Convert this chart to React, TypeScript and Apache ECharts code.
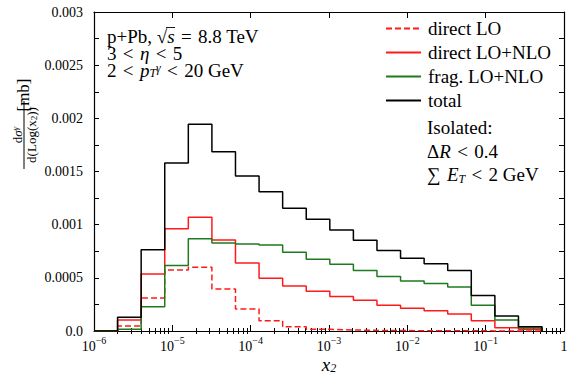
import React, { useEffect, useRef } from "react";
import * as echarts from "echarts";

// bin edges of the x2 histogram (doubling bins)
const binEdges = [
  1e-6, 2e-6, 4e-6, 8e-6, 1.6e-5, 3.2e-5, 6.4e-5, 1.28e-4, 2.56e-4, 5.12e-4,
  1.024e-3, 2.048e-3, 4.096e-3, 8.192e-3, 1.6384e-2, 3.2768e-2, 6.5536e-2,
  0.131072, 0.262144, 0.524288,
];

const directLO = [
  0, 0.000047, 0.00031, 0.000574, 0.0006, 0.000395, 0.000207, 0.000097,
  0.00004, 0.000016, 0.00001, 0.000006, 0.000004, 0.000003, 0.000002,
  0.000002, 0.000001, 0.000001, 0,
];
const directLONLO = [
  0, 0.000103, 0.000537, 0.000962, 0.00107, 0.000856, 0.00064, 0.000497,
  0.000423, 0.000375, 0.000325, 0.000289, 0.000242, 0.000214, 0.000191,
  0.00016, 0.000097, 0.000031, 0.000016,
];
const fragLONLO = [
  0, 0.000016, 0.000227, 0.000616, 0.000868, 0.000828, 0.000818, 0.000808,
  0.00074, 0.000675, 0.000627, 0.000568, 0.000512, 0.00047, 0.000447,
  0.000414, 0.000242, 0.000103, 0.000028,
];
const total = [
  0, 0.00013, 0.000765, 0.00158, 0.001944, 0.001686, 0.001458, 0.00131,
  0.001155, 0.00105, 0.00095, 0.000853, 0.000758, 0.000684, 0.000633,
  0.00057, 0.000334, 0.000141, 0.00004,
];

const seriesNames = ["direct LO", "direct LO+NLO", "frag. LO+NLO", "total"];
const xMajorTicks = [1e-6, 1e-5, 1e-4, 1e-3, 1e-2, 1e-1, 1];
const yTicks = [0, 0.0005, 0.001, 0.0015, 0.002, 0.0025, 0.003];

const FONT = "Liberation Serif";
const RED = "#ff1a1a";
const GREEN = "#1f7a1f";
const BLACK = "#000000";
const SP = "\u2004"; // math-like spacing around relations

function stepPoints(vals: number[]): number[][] {
  const pts: number[][] = [];
  vals.forEach((v, i) => {
    pts.push([binEdges[i], v]);
    pts.push([binEdges[i + 1], v]);
  });
  pts.push([binEdges[vals.length], 0]);
  return pts;
}

function minorTickValues(): number[] {
  const out: number[] = [];
  for (let e = -6; e < 0; e++) {
    for (let m = 2; m <= 9; m++) out.push(m * Math.pow(10, e));
  }
  return out;
}

const richBase = {
  r: { fontFamily: FONT, fontSize: 19, color: "#000", lineHeight: 20 },
  i: { fontFamily: FONT, fontSize: 19, color: "#000", fontStyle: "italic", lineHeight: 20 },
  sub: { fontFamily: FONT, fontSize: 12, color: "#000", fontStyle: "italic", lineHeight: 12, verticalAlign: "bottom" },
};

const richTop = {
  r: { fontFamily: FONT, fontSize: 19, color: "#000", lineHeight: 17 },
  i: { fontFamily: FONT, fontSize: 19, color: "#000", fontStyle: "italic", lineHeight: 17 },
  sub: { fontFamily: FONT, fontSize: 12, color: "#000", fontStyle: "italic", lineHeight: 10, verticalAlign: "bottom" },
  sup: { fontFamily: FONT, fontSize: 12, color: "#000", fontStyle: "italic", lineHeight: 10, verticalAlign: "top" },
};

const fracRich = {
  r: { fontFamily: FONT, fontSize: 13, color: "#000", lineHeight: 14 },
  i: { fontFamily: FONT, fontSize: 13, color: "#000", fontStyle: "italic", lineHeight: 14 },
  sup: { fontFamily: FONT, fontSize: 9, color: "#000", fontStyle: "italic", lineHeight: 9, verticalAlign: "top" },
  sub: { fontFamily: FONT, fontSize: 9, color: "#000", lineHeight: 9, verticalAlign: "bottom" },
};

export default function App() {
  const ref = useRef<HTMLDivElement>(null);
  useEffect(() => {
    if (!ref.current) return;
    const chart = echarts.init(ref.current, undefined, { renderer: "svg" });
    const minor = minorTickValues();
    const yFormatter = (v: number) => (v === 0 ? "0.0" : String(v));
    const xFormatter = (v: number) => {
      const e = Math.round(Math.log10(v));
      if (e === 0) return "{b|1}";
      return "{b|10}{s|" + (e < 0 ? "\u2212" + -e : String(e)) + "}";
    };
    const xBase = {
      type: "log" as const,
      min: 1e-6,
      max: 1,
      logBase: 10,
      splitLine: { show: false },
      axisLine: { show: true, onZero: false, lineStyle: { color: "#000", width: 1.2 } },
    };
    const yBase = {
      type: "value" as const,
      min: 0,
      max: 0.003,
      interval: 0.0005,
      splitLine: { show: false },
      axisLine: { show: true, lineStyle: { color: "#000", width: 1.2 } },
      axisTick: { show: true, inside: true, length: 5, lineStyle: { color: "#000" } },
      minorTick: { show: true, splitNumber: 2, length: 5, lineStyle: { color: "#000" } },
    };
    const hiddenX = (gridIndex: number) => ({
      type: "value" as const,
      gridIndex,
      show: false,
      min: 0,
      max: 1,
    });
    const nameY = (gridIndex: number, name: string, nameGap: number, rich: any) => ({
      type: "value" as const,
      gridIndex,
      position: "left",
      min: 0,
      max: 1,
      axisLine: { show: false },
      axisTick: { show: false },
      axisLabel: { show: false },
      splitLine: { show: false },
      name,
      nameLocation: "middle",
      nameRotate: 90,
      nameGap,
      nameTextStyle: { rich, align: "center" },
    });
    const mkSeries = (name: string, vals: number[], color: string, dashed: boolean) => ({
      name,
      type: "line",
      data: stepPoints(vals),
      symbol: "none",
      showSymbol: false,
      xAxisIndex: 0,
      yAxisIndex: 0,
      lineStyle: { color, width: 1.5, type: dashed ? [6, 3] : "solid" },
      itemStyle: { color },
      silent: true,
    });

    const topBlock =
      "{r|p+Pb, \u221A}{i|s}{r|" + SP + "=" + SP + "8.8 TeV}\n" +
      "{r|3" + SP + "<" + SP + "}{i|\u03B7}{r|" + SP + "<" + SP + "5}\n" +
      "{r|2" + SP + "<" + SP + "}{i|p}{sub|T}{sup|\u03B3}{r|" + SP + "<" + SP + "20 GeV}";

    chart.setOption({
      animation: false,
      backgroundColor: "#fff",
      grid: [
        { left: 94, right: 4, top: 12, bottom: 46, containLabel: false, outerBoundsMode: "none" },
        { left: 94, right: 4, top: 101, bottom: 208, containLabel: false, outerBoundsMode: "none" },
        { left: 94, right: 4, top: 80, bottom: 267, containLabel: false, outerBoundsMode: "none" },
      ],
      legend: {
        orient: "vertical",
        left: 385,
        top: 19,
        padding: 0,
        itemWidth: 35,
        itemHeight: 14,
        itemGap: 5,
        data: seriesNames,
        itemStyle: { opacity: 0 },
        textStyle: { fontFamily: FONT, fontSize: 19, color: "#000", padding: [0, 0, 0, 2] },
        selectedMode: false,
      },
      xAxis: [
        {
          ...xBase,
          position: "bottom",
          axisTick: { show: true, inside: true, length: 6, customValues: xMajorTicks, lineStyle: { color: "#000" } },
          axisLabel: {
            show: true,
            margin: 4,
            customValues: xMajorTicks,
            formatter: xFormatter,
            rich: {
              b: { fontFamily: FONT, fontSize: 14, color: "#000", lineHeight: 18, verticalAlign: "bottom" },
              s: { fontFamily: FONT, fontSize: 10, color: "#000", lineHeight: 10, verticalAlign: "top" },
            },
          },
        },
        {
          ...xBase,
          position: "top",
          axisTick: { show: true, inside: true, length: 6, customValues: xMajorTicks, lineStyle: { color: "#000" } },
          axisLabel: { show: false },
        },
        {
          ...xBase,
          position: "bottom",
          axisLine: { show: false },
          axisTick: { show: true, inside: true, length: 3, customValues: minor, lineStyle: { color: "#000" } },
          axisLabel: { show: false },
        },
        {
          ...xBase,
          position: "top",
          axisLine: { show: false },
          axisTick: { show: true, inside: true, length: 3, customValues: minor, lineStyle: { color: "#000" } },
          axisLabel: { show: false },
        },
        hiddenX(1),
        hiddenX(2),
      ],
      yAxis: [
        {
          ...yBase,
          position: "left",
          axisLabel: {
            show: true,
            margin: 11,
            formatter: yFormatter,
            fontFamily: FONT,
            fontSize: 14,
            color: "#000",
            customValues: yTicks,
          },
        },
        {
          ...yBase,
          position: "right",
          axisLabel: { show: false },
        },
        nameY(1, "{r|d}{i|\u03C3}{sup|\u03B3}\n{r|d(Log(x}{sub|2}{r|))}", 56, fracRich),
        nameY(2, "{m|[mb]}", 62, { m: { fontFamily: FONT, fontSize: 17, color: "#000", lineHeight: 17 } }),
      ],
      series: [
        mkSeries(seriesNames[0], directLO, RED, true),
        mkSeries(seriesNames[1], directLONLO, RED, false),
        mkSeries(seriesNames[2], fragLONLO, GREEN, false),
        mkSeries(seriesNames[3], total, BLACK, false),
      ],
      graphic: [
        {
          type: "text",
          left: 107,
          top: 26.5,
          style: { text: topBlock, rich: richTop },
        },
        {
          type: "line",
          shape: { x1: 166, y1: 27.5, x2: 175, y2: 27.5 },
          style: { stroke: "#000", lineWidth: 0.9 },
        },
        {
          type: "text",
          left: 427,
          top: 118,
          style: { text: "{r|Isolated:}", rich: richBase },
        },
        {
          type: "text",
          left: 427,
          top: 142,
          style: { text: "{r|\u0394}{i|R}{r|" + SP + "<" + SP + "0.4}", rich: richBase },
        },
        {
          type: "text",
          left: 427,
          top: 165,
          style: { text: "{r|\u2211" + SP + "}{i|E}{sub|T}{r|" + SP + "<" + SP + "2 GeV}", rich: richBase },
        },
        {
          type: "text",
          x: 329,
          y: 364,
          style: {
            text: "{i|x}{sub|2}",
            rich: richBase,
            align: "center",
            verticalAlign: "middle",
          },
        },
        {
          type: "line",
          shape: { x1: 24, y1: 101, x2: 24, y2: 169 },
          style: { stroke: "#000", lineWidth: 1 },
        },
      ],
    });
    return () => chart.dispose();
  }, []);
  return (
    <div
      ref={ref}
      style={{ position: "fixed", left: 0, top: 0, width: 568, height: 377, background: "#fff" }}
    />
  );
}
